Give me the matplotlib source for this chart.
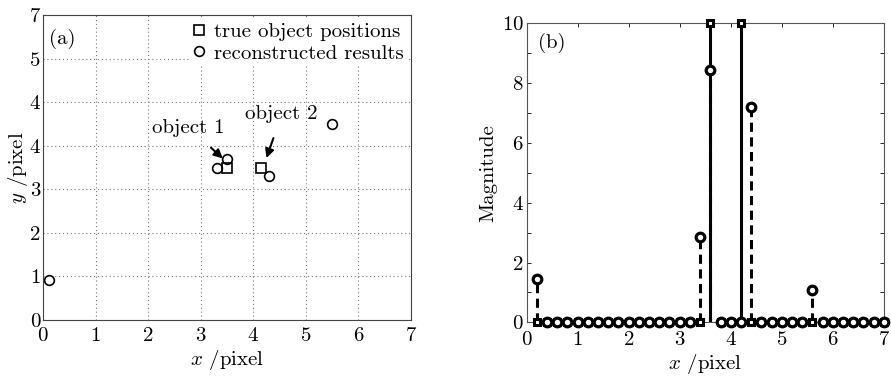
import numpy as np
import matplotlib
matplotlib.use("Agg")
import matplotlib.pyplot as plt

plt.rcParams['font.family'] = ['cmr10', 'DejaVu Serif']
plt.rcParams['mathtext.fontset'] = 'cm'
plt.rcParams['axes.formatter.use_mathtext'] = True

# ---- panel (a) data ----
true_x = [3.5, 4.15]
true_y = [3.5, 3.5]
rec_x = [0.11, 3.3, 3.5, 4.3, 5.5]
rec_y = [0.93, 3.5, 3.7, 3.3, 4.5]
a_ytick_labels = ['0', '1', '2', '3', '4', '4', '5', '7']

# ---- panel (b) data ----
grid_x = [round(0.2 * k, 1) for k in range(1, 36)]
true_mag = {3.6: 10.0, 4.2: 10.0}
rec_mag = {0.2: 1.45, 3.4: 2.85, 3.6: 8.45, 4.4: 7.2, 5.6: 1.1}
true_vals = [true_mag.get(v, 0.0) for v in grid_x]
rec_vals = [rec_mag.get(v, 0.0) for v in grid_x]

fig = plt.figure(figsize=(8.91, 3.82), dpi=100)
fs = 15

# ---------------- panel (a) ----------------
ax1 = fig.add_axes([0.0483, 0.1623, 0.413, 0.798])
ax1.set_xlim(0, 7)
ax1.set_ylim(0, 7)
ax1.set_xticks(range(8))
ax1.set_yticks(range(8))
ax1.set_yticklabels(a_ytick_labels)
ax1.grid(True, linestyle=(0, (1, 2.5)), color='#777777', linewidth=0.8)
ax1.tick_params(axis='y', direction='in', length=0, labelsize=fs, pad=2)
ax1.tick_params(axis='x', direction='in', length=0, labelsize=fs, pad=5)
for s in ax1.spines.values():
    s.set_color('#444444'); s.set_linewidth(0.8)
ax1.plot(true_x, true_y, 's', ms=7, mfc='white', mec='black', mew=1.2,
         label='true object positions', zorder=3)
ax1.plot(rec_x, rec_y, 'o', ms=7, mfc='none', mec='black', mew=1.2,
         label='reconstructed results', zorder=3)
leg = ax1.legend(loc='upper right', fontsize=fs, frameon=True, handlelength=0.6,
                 handletextpad=0.4, borderpad=0.15, labelspacing=0.15,
                 borderaxespad=0.2, numpoints=1, fancybox=False)
leg.get_frame().set_edgecolor('none')
leg.get_frame().set_facecolor('white')
leg.get_frame().set_alpha(1)
ax1.text(0.12, 6.45, '(a)', fontsize=fs, va='center', ha='left')
ax1.annotate('object 1', xy=(3.42, 3.71), xytext=(2.77, 4.42), fontsize=fs,
             ha='center', va='center',
             arrowprops=dict(arrowstyle='-|>', color='black', lw=1.5,
                             mutation_scale=13, shrinkA=9, shrinkB=0))
ax1.annotate('object 2', xy=(4.25, 3.72), xytext=(4.54, 4.72), fontsize=fs,
             ha='center', va='center',
             arrowprops=dict(arrowstyle='-|>', color='black', lw=1.5,
                             mutation_scale=13, shrinkA=9, shrinkB=0))
ax1.set_xlabel(r'$x$ /pixel', fontsize=fs, labelpad=2)
ax1.set_ylabel(r'$y$ /pixel', fontsize=fs, labelpad=0)

# ---------------- panel (b) ----------------
ax2 = fig.add_axes([0.591, 0.156, 0.401, 0.783])
ax2.set_xlim(0, 7)
ax2.set_ylim(0, 10)
ax2.set_xticks(range(8))
ax2.set_yticks(range(0, 11, 2))
ax2.set_yticks(range(1, 10, 2), minor=True)
ax2.tick_params(direction='in', which='both', top=True, right=True,
                labelsize=fs, length=3, width=0.6)
ax2.tick_params(axis='y', which='both', pad=2)
ax2.tick_params(axis='x', which='both', pad=6)
for s in ax2.spines.values():
    s.set_color('#555555'); s.set_linewidth(0.8)

m1, st1, b1 = ax2.stem(grid_x, true_vals, linefmt='k-', markerfmt='ks', basefmt=' ')
st1.set_linewidth(2.2)
plt.setp(m1, markersize=5.0, markerfacecolor='white', markeredgecolor='black',
         markeredgewidth=2.2, clip_on=False, zorder=4)
m2, st2, b2 = ax2.stem(grid_x, rec_vals, linefmt='k-', markerfmt='ko', basefmt=' ')
st2.set_linewidth(2.2)
st2.set_linestyle((0, (3, 1.8)))
plt.setp(m2, markersize=6.2, markerfacecolor='white', markeredgecolor='black',
         markeredgewidth=2.3, clip_on=False, zorder=5)
ax2.text(0.22, 9.35, '(b)', fontsize=fs, va='center', ha='left')
ax2.set_xlabel(r'$x$ /pixel', fontsize=fs, labelpad=2)
ax2.set_ylabel('Magnitude', fontsize=fs, labelpad=3)

fig.savefig('out.png', dpi=100)
